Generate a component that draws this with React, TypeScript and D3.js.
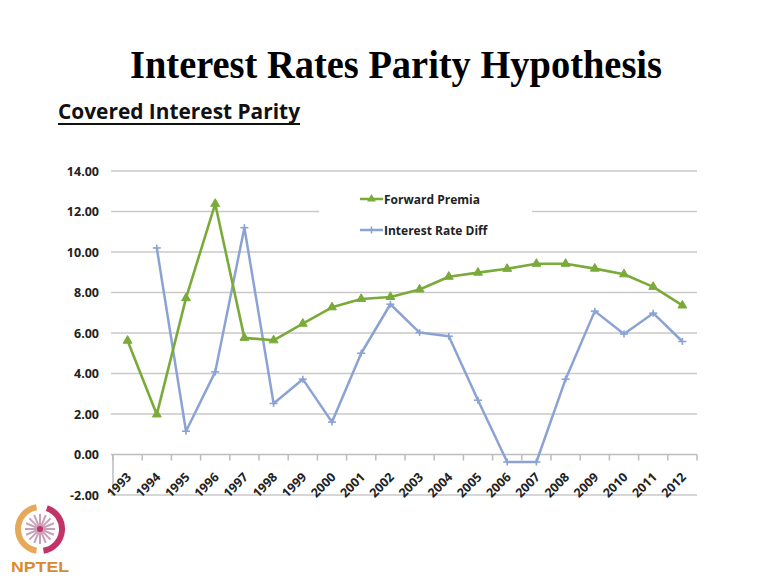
import React from "react";
import * as d3 from "d3";

const years = ["1993","1994","1995","1996","1997","1998","1999","2000","2001","2002","2003","2004","2005","2006","2007","2008","2009","2010","2011","2012"];
const forwardPremia: (number | null)[] = [5.62, 1.98, 7.72, 12.38, 5.76, 5.64, 6.46, 7.27, 7.68, 7.78, 8.15, 8.78, 8.98, 9.17, 9.42, 9.42, 9.18, 8.9, 8.28, 7.36];
const interestRateDiff: (number | null)[] = [null, 10.2, 1.15, 4.08, 11.2, 2.52, 3.72, 1.6, 5.0, 7.42, 6.02, 5.84, 2.68, -0.37, -0.37, 3.72, 7.08, 5.95, 6.98, 5.58];
const yTicks = [-2, 0, 2, 4, 6, 8, 10, 12, 14];
const seriesNames = ["Forward Premia", "Interest Rate Diff"];

const GREEN = "#7aab3a";
const BLUE = "#8ba3d4";

export default function App() {
  const W = 768, H = 578;
  const x = d3.scaleBand<string>().domain(years).range([113, 697]).paddingInner(0).paddingOuter(0);
  const y = d3.scaleLinear().domain([-2, 14]).range([495, 171]);
  const cx = (yr: string) => (x(yr) as number) + x.bandwidth() / 2;
  const line = d3.line<[string, number | null]>()
    .defined(d => d[1] !== null)
    .x(d => cx(d[0]))
    .y(d => y(d[1] as number));
  const gData: [string, number | null][] = years.map((yr, i) => [yr, forwardPremia[i]]);
  const bData: [string, number | null][] = years.map((yr, i) => [yr, interestRateDiff[i]]);
  const tri = d3.symbol().type(d3.symbolTriangle).size(34)() as string;
  const plus = (px: number, py: number, key: string) => (
    <g key={key} stroke={BLUE} strokeWidth={1.6}>
      <line x1={px - 4} x2={px + 4} y1={py} y2={py} />
      <line x1={px} x2={px} y1={py - 3.5} y2={py + 3.5} />
    </g>
  );
  const legBox = { x0: 319, x1: 532, y0: 182, y1: 246 };
  const tickFont = "'Open Sans', 'Liberation Sans', sans-serif";

  return (
    <svg width={W} height={H} style={{ position: "absolute", left: 0, top: 0, background: "#fff" }} fontFamily={tickFont}>
      <rect x={0} y={0} width={W} height={H} fill="#fff" />
      {/* Title */}
      <text x={396} y={78} textAnchor="middle" fontFamily="'Liberation Serif', 'DejaVu Serif', serif" fontWeight="bold" fontSize={40} textLength={532} lengthAdjust="spacingAndGlyphs" fill="#000">Interest Rates Parity Hypothesis</text>
      <text x={58} y={119} fontFamily="'Open Sans', sans-serif" fontWeight={700} fontSize={21} textLength={242} lengthAdjust="spacingAndGlyphs" fill="#111">Covered Interest Parity</text>
      <line x1={58} x2={300} y1={124} y2={124} stroke="#111" strokeWidth={1.8} />

      {/* Gridlines */}
      {yTicks.filter(t => t !== 0).map(t => {
        const yy = y(t);
        if (yy > legBox.y0 && yy < legBox.y1) {
          return (
            <g key={t}>
              <line x1={111} x2={legBox.x0} y1={yy} y2={yy} stroke="#c9c9c9" strokeWidth={1.5} />
              <line x1={legBox.x1} x2={697} y1={yy} y2={yy} stroke="#c9c9c9" strokeWidth={1.5} />
            </g>
          );
        }
        return <line key={t} x1={111} x2={697} y1={yy} y2={yy} stroke="#c9c9c9" strokeWidth={1.5} />;
      })}
      {/* x axis at 0 */}
      <line x1={111} x2={697} y1={y(0)} y2={y(0)} stroke="#bdbdbd" strokeWidth={1.5} />
      <line x1={113} x2={113} y1={y(0)} y2={y(-2)} stroke="#bdbdbd" strokeWidth={1.5} />
      {years.concat(["end"]).map((yr, i) => {
        const xx = i < years.length ? (x(yr) as number) : 697;
        return <line key={"tk" + i} x1={xx} x2={xx} y1={y(0)} y2={y(0) + 6} stroke="#bdbdbd" strokeWidth={1.5} />;
      })}

      {/* Y tick labels */}
      {yTicks.map(t => (
        <text key={"yl" + t} x={99} y={y(t) + 4.5} textAnchor="end" fontSize={12.5} fontWeight={700} fill="#222">{t.toFixed(2)}</text>
      ))}
      {/* X tick labels */}
      {years.map(yr => (
        <text key={"xl" + yr} transform={`translate(${cx(yr) + 4.5},${478}) rotate(-45)`} textAnchor="end" fontSize={12.5} fontWeight={700} fill="#222">{yr}</text>
      ))}

      {/* Series */}
      <path d={line(bData) as string} fill="none" stroke={BLUE} strokeWidth={2.5} strokeLinejoin="round" />
      {bData.filter(d => d[1] !== null).map(d => plus(cx(d[0]), y(d[1] as number), "bp" + d[0]))}
      <path d={line(gData) as string} fill="none" stroke={GREEN} strokeWidth={2.6} strokeLinejoin="round" />
      {gData.filter(d => d[1] !== null).map(d => (
        <path key={"gp" + d[0]} d={tri} transform={`translate(${cx(d[0])},${y(d[1] as number)})`} fill={GREEN} stroke={GREEN} strokeWidth={1} />
      ))}

      {/* Legend */}
      <g>
        <line x1={360} x2={383} y1={199} y2={199} stroke={GREEN} strokeWidth={2.5} />
        <path d={tri} transform="translate(371.5,199)" fill={GREEN} />
        <text x={384} y={203.5} fontSize={12} fontWeight={700} fill="#222">{seriesNames[0]}</text>
        <line x1={360} x2={383} y1={230} y2={230} stroke={BLUE} strokeWidth={2.5} />
        {plus(371.5, 230, "legplus")}
        <text x={384} y={234.5} fontSize={12} fontWeight={700} fill="#222">{seriesNames[1]}</text>
      </g>

      {/* NPTEL logo */}
      <g transform="translate(40,529)">
        <path d={d3.arc()({ innerRadius: 19, outerRadius: 25, startAngle: Math.PI * 1.05, endAngle: Math.PI * 1.95 }) as string} fill="#e6a95a" />
        <path d={d3.arc()({ innerRadius: 19, outerRadius: 25, startAngle: Math.PI * 0.1, endAngle: Math.PI * 0.95 }) as string} fill="#c2336a" />
        {d3.range(8).map(i => {
          const a = (i * Math.PI) / 8;
          return <line key={"sp" + i} x1={-15 * Math.cos(a)} y1={-15 * Math.sin(a)} x2={15 * Math.cos(a)} y2={15 * Math.sin(a)} stroke="#c9a0b8" strokeWidth={2} />;
        })}
        <circle r={3} fill="#c2336a" />
      </g>
      <text x={40} y={572} textAnchor="middle" fontFamily="'Liberation Sans', sans-serif" fontWeight="bold" fontSize={15} fill="#d98a30" textLength={58} lengthAdjust="spacingAndGlyphs">NPTEL</text>
    </svg>
  );
}
